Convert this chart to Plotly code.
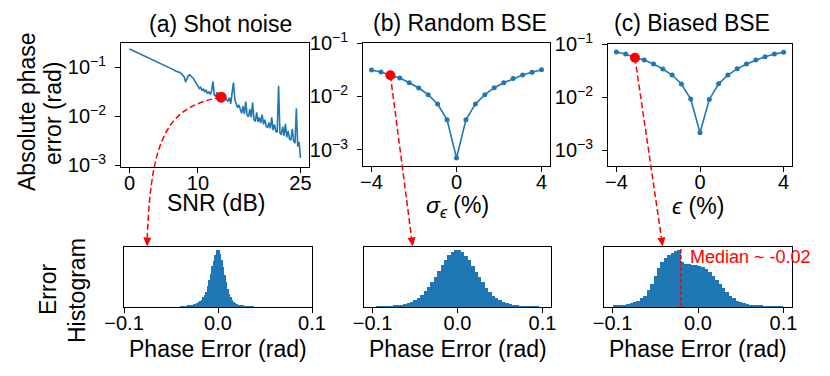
import math
import plotly.graph_objects as go

W, H = 830, 376
BLUE = "#1f77b4"
RED = "#ff0000"
FONT = "Liberation Sans, Arial, sans-serif"

# ---------------------------------------------------------------- data
# (a) shot noise: absolute phase error vs SNR
SNR_DB = [round(0.2 * i, 1) for i in range(126)]
ERR_SHOT = [
    0.238, 0.231, 0.225, 0.219, 0.212, 0.206, 0.200, 0.194, 0.189, 0.183,
    0.178, 0.172, 0.167, 0.162, 0.158, 0.153, 0.148, 0.144, 0.140, 0.136,
    0.132, 0.129, 0.126, 0.121, 0.117, 0.113, 0.110, 0.108, 0.105, 0.102,
    0.098, 0.094, 0.090, 0.086, 0.083, 0.081, 0.080, 0.079, 0.074, 0.070,
    0.064, 0.050, 0.058, 0.068, 0.071, 0.066, 0.063, 0.058, 0.051, 0.046,
    0.040, 0.037, 0.039, 0.034, 0.036, 0.031, 0.035, 0.029, 0.032, 0.028,
    0.033, 0.052, 0.027, 0.026, 0.031, 0.024, 0.025, 0.0245, 0.028, 0.026,
    0.024, 0.022, 0.020, 0.024, 0.018, 0.030, 0.049, 0.022, 0.018, 0.015,
    0.017, 0.013, 0.0115, 0.016, 0.011, 0.020, 0.0105, 0.0098, 0.014, 0.0095,
    0.019, 0.0085, 0.0078, 0.012, 0.0076, 0.0095, 0.0072, 0.0108, 0.0068, 0.0085,
    0.0062, 0.0058, 0.0075, 0.0056, 0.0095, 0.0052, 0.0068, 0.0049, 0.0047, 0.042,
    0.0045, 0.0042, 0.0061, 0.0040, 0.0070, 0.0037, 0.0050, 0.0034, 0.0033, 0.0055,
    0.0031, 0.0028, 0.0145, 0.0024, 0.0030, 0.0014,
]
PICK_SHOT = 67          # SNR = 13.4 dB

# (b) random / (c) biased BSE sweeps
BSE_PCT = [round(-4 + 4 * i / 9, 3) for i in range(19)]
ERR_RANDOM = [0.0313, 0.0286, 0.0249, 0.0221, 0.0181, 0.0144, 0.0108, 0.00722,
              0.00367, 0.000705, 0.00367, 0.00725, 0.0108, 0.0146, 0.0180,
              0.0216, 0.0252, 0.0283, 0.0316]
ERR_BIASED = [0.0706, 0.0648, 0.0552, 0.0499, 0.0420, 0.0338, 0.0260, 0.0176,
              0.00916, 0.00212, 0.0090, 0.0177, 0.0260, 0.0340, 0.0420,
              0.0499, 0.0575, 0.0645, 0.0700]
PICK_BSE = 2

# error histograms (normalised counts)
HIST_A_X = [round(-0.0392 + 0.0016 * i, 4) for i in range(50)]
HIST_A = [0.002, 0.003, 0.005, 0.008, 0.012, 0.018, 0.024, 0.031, 0.039, 0.047,
          0.056, 0.068, 0.085, 0.105, 0.13, 0.17, 0.21, 0.27, 0.36, 0.47,
          0.58, 0.71, 0.81, 0.91, 0.99, 1.0, 0.93, 0.82, 0.70, 0.56,
          0.43, 0.31, 0.23, 0.17, 0.12, 0.09, 0.065, 0.05, 0.04, 0.033,
          0.026, 0.02, 0.015, 0.011, 0.008, 0.005, 0.003, 0.002, 0.001, 0.0]
HIST_BC_X = [round(-0.098 + 0.004 * i, 3) for i in range(50)]
HIST_B = [0.0, 0.001, 0.002, 0.004, 0.007, 0.012, 0.018, 0.026, 0.036, 0.05,
          0.068, 0.09, 0.12, 0.16, 0.21, 0.28, 0.35, 0.44, 0.53, 0.63,
          0.73, 0.83, 0.91, 0.97, 1.0, 0.99, 0.96, 0.90, 0.82, 0.72,
          0.62, 0.52, 0.43, 0.34, 0.27, 0.20, 0.15, 0.115, 0.085, 0.065,
          0.047, 0.034, 0.024, 0.017, 0.011, 0.007, 0.004, 0.002, 0.001, 0.0]
HIST_C = [0.02, 0.025, 0.032, 0.04, 0.05, 0.065, 0.085, 0.11, 0.15, 0.2,
          0.29, 0.40, 0.54, 0.68, 0.79, 0.86, 0.91, 0.95, 0.98, 1.0,
          0.78, 0.75, 0.745, 0.74, 0.735, 0.725, 0.70, 0.67, 0.62, 0.55,
          0.47, 0.40, 0.33, 0.26, 0.20, 0.15, 0.11, 0.085, 0.065, 0.05,
          0.038, 0.03, 0.023, 0.018, 0.014, 0.011, 0.008, 0.006, 0.004, 0.003]
MEDIAN_C = -0.02

DECADES = [1e-3, 1e-2, 1e-1]
DECADE_TEXT = ["10<sup>−3</sup>", "10<sup>−2</sup>", "10<sup>−1</sup>"]

# ---------------------------------------------------------------- layout helpers
# axes boxes in pixels: (left, right, top, bottom)
BOX = {
    "a": (121, 309, 43, 167), "b": (363, 550, 43, 166), "c": (608, 792, 44, 166),
    "d": (124, 312, 247, 307), "e": (364, 551, 247, 307), "f": (604, 792, 247, 307),
}
RNG = {
    "a": ([-1.25, 26.25], [-3.04, -0.5]),
    "b": ([-4.4, 4.4], [math.log10(5e-4), -1]),
    "c": ([-4.4, 4.4], [math.log10(5e-4), -1]),
}


def px(x):
    return x / W


def py(y):
    return 1 - y / H


def to_pixel(key, xv, yv):
    l, r, t, b = BOX[key]
    (x0, x1), (y0, y1) = RNG[key]
    fx = (xv - x0) / (x1 - x0)
    fy = (math.log10(yv) - y0) / (y1 - y0)
    return l + fx * (r - l), b - fy * (b - t)


axis_style = dict(showline=True, mirror=True, linecolor="black", linewidth=1,
                  ticks="outside", ticklen=5, tickwidth=1, tickcolor="black",
                  showgrid=False, zeroline=False, automargin=False,
                  tickfont=dict(family=FONT, size=20, color="black"))

fig = go.Figure()

# top row: error curves
fig.add_trace(go.Scatter(x=SNR_DB, y=ERR_SHOT, mode="lines",
                         line=dict(color=BLUE, width=1.6), xaxis="x", yaxis="y"))
fig.add_trace(go.Scatter(x=[SNR_DB[PICK_SHOT]], y=[ERR_SHOT[PICK_SHOT]], mode="markers",
                         marker=dict(color=RED, size=11), xaxis="x", yaxis="y"))
for ax, err in (("2", ERR_RANDOM), ("3", ERR_BIASED)):
    fig.add_trace(go.Scatter(x=BSE_PCT, y=err, mode="lines+markers",
                             line=dict(color=BLUE, width=1.6),
                             marker=dict(color=BLUE, size=5),
                             xaxis="x" + ax, yaxis="y" + ax))
    fig.add_trace(go.Scatter(x=[BSE_PCT[PICK_BSE]], y=[err[PICK_BSE]], mode="markers",
                             marker=dict(color=RED, size=10),
                             xaxis="x" + ax, yaxis="y" + ax))

# bottom row: histograms
for ax, xs, hs, w in (("4", HIST_A_X, HIST_A, 0.0016),
                      ("5", HIST_BC_X, HIST_B, 0.004),
                      ("6", HIST_BC_X, HIST_C, 0.004)):
    fig.add_trace(go.Bar(x=xs, y=hs, width=w, marker=dict(color=BLUE, line_width=0),
                         xaxis="x" + ax, yaxis="y" + ax))

layout = dict(width=W, height=H, margin=dict(l=0, r=0, t=0, b=0),
              paper_bgcolor="white", plot_bgcolor="white", showlegend=False,
              bargap=0, font=dict(family=FONT, color="black"))
names = ["", "2", "3", "4", "5", "6"]
for n, key in zip(names, "abcdef"):
    l, r, t, b = BOX[key]
    xa = dict(axis_style, domain=[px(l), px(r)], anchor="y" + n, ticklabelstandoff=-7)
    ya = dict(axis_style, domain=[py(b), py(t)], anchor="x" + n, ticklabelstandoff=5)
    if key in "abc":
        xa["range"], ya["range"] = RNG[key]
        xa["tickvals"] = [0, 10, 25] if key == "a" else [-4, 0, 4]
        xa["ticktext"] = ["0", "10", "25"] if key == "a" else ["−4", "0", "4"]
        ya.update(type="log", tickvals=DECADES, ticktext=DECADE_TEXT)
    else:
        xa["range"] = [-0.1, 0.1] if key == "d" else [-0.11, 0.11]
        xa.update(tickvals=[-0.1, 0, 0.1], ticktext=["−0.1", "0.0", "0.1"])
        ya.update(range=[0, 1.05], ticks="", showticklabels=False)
    layout["xaxis" + n] = xa
    layout["yaxis" + n] = ya
fig.update_layout(**layout)


# ---------------------------------------------------------------- texts
def label(text, x, y, size=23, angle=0, color="black", xanchor="center"):
    fig.add_annotation(text=text, x=px(x), y=py(y), xref="paper", yref="paper",
                       showarrow=False, textangle=angle, xanchor=xanchor,
                       yanchor="middle", font=dict(family=FONT, size=size, color=color))


label("(a) Shot noise", 220, 24)
label("(b) Random BSE", 460, 23)
label("(c) Biased BSE", 692, 23)
label("SNR (dB)", 216, 203)
label("<i>σ</i><sub><i>ϵ</i></sub> (%)", 457, 206)
label("<i>ϵ</i> (%)", 698, 206)
for cx in (218, 457.5, 698):
    label("Phase Error (rad)", cx, 349)
label("Absolute phase", 27, 112, angle=-90)
label("error (rad)", 53, 113, angle=-90)
label("Error", 48, 290, angle=-90)
label("Histogram", 77, 291, angle=-90)
label("Median ~ -0.02", 688, 257, size=18, color=RED, xanchor="left")

# median marker in (c) histogram
fig.add_shape(type="line", xref="x6", yref="y6 domain", x0=MEDIAN_C, x1=MEDIAN_C,
              y0=0, y1=1, line=dict(color=RED, width=1.5, dash="4px,2px"))

# ---------------------------------------------------------------- dashed arrows
DASH = dict(color=RED, width=1.5, dash="6px,3px")


def arrow_head(tip, prev, length=9, half=4):
    dx, dy = tip[0] - prev[0], tip[1] - prev[1]
    d = math.hypot(dx, dy)
    ux, uy = dx / d, dy / d
    bx, by = tip[0] - length * ux, tip[1] - length * uy
    pts = [tip, (bx - half * uy, by + half * ux), (bx + half * uy, by - half * ux)]
    path = "M " + " L ".join(f"{px(p[0])},{py(p[1])}" for p in pts) + " Z"
    fig.add_shape(type="path", path=path, xref="paper", yref="paper",
                  fillcolor=RED, line=dict(width=0), layer="above")
    return bx, by


# (a): curved connector
sx, sy = to_pixel("a", SNR_DB[PICK_SHOT], ERR_SHOT[PICK_SHOT])
tip = (147, 246.5)
c1, c2 = (sx - 50, sy + 9), (151, 131)
bx, by = arrow_head(tip, c2)
fig.add_shape(type="path", xref="paper", yref="paper", layer="above", line=DASH,
              path=(f"M {px(sx)},{py(sy)} C {px(c1[0])},{py(c1[1])} "
                    f"{px(c2[0])},{py(c2[1])} {px(bx)},{py(by)}"))

# (b), (c): straight connectors
for key, err, tip in (("b", ERR_RANDOM, (412.7, 246.5)), ("c", ERR_BIASED, (662.7, 246.5))):
    sx, sy = to_pixel(key, BSE_PCT[PICK_BSE], err[PICK_BSE])
    bx, by = arrow_head(tip, (sx, sy))
    fig.add_shape(type="line", xref="paper", yref="paper", layer="above", line=DASH,
                  x0=px(sx), y0=py(sy), x1=px(bx), y1=py(by))

fig.write_html("out.html", config={"displayModeBar": False},
               post_script="document.body.style.margin = '0';")
